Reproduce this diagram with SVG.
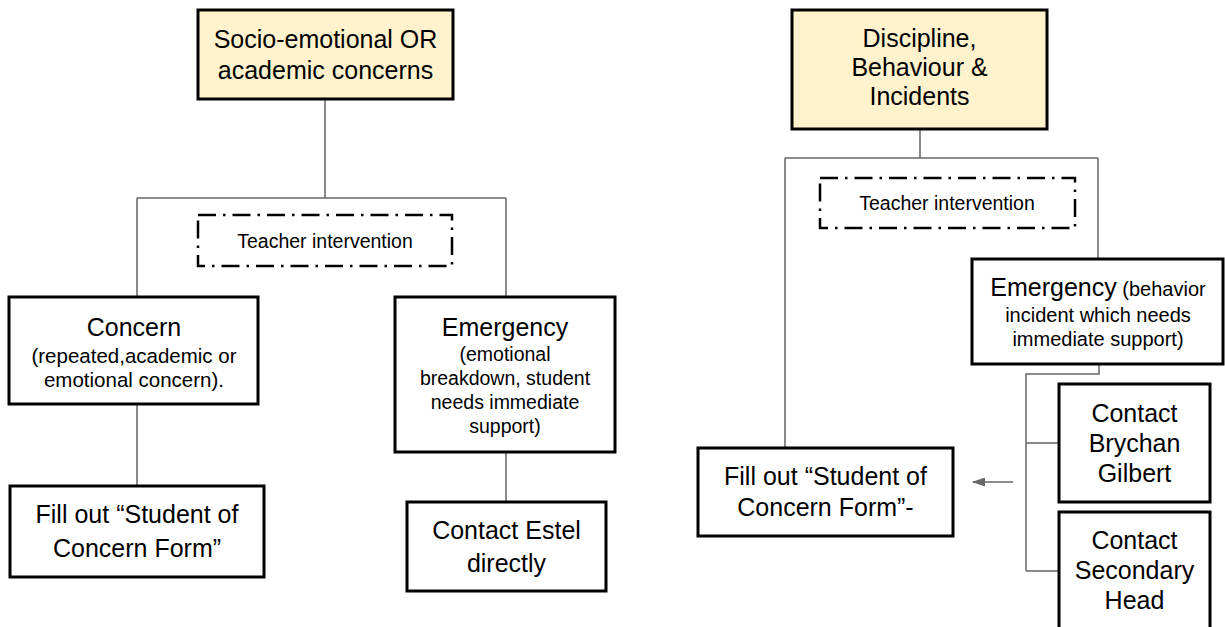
<svg xmlns="http://www.w3.org/2000/svg" width="1225" height="627" viewBox="0 0 1225 627">
<style>
.box{fill:#ffffff;stroke:#000000;stroke-width:3}
.head{fill:#fff2cc;stroke:#000000;stroke-width:3}
.dash{fill:none;stroke:#000000;stroke-width:2.5;stroke-dasharray:18 7 2.5 7}
.t{font-family:"Liberation Sans",Arial,sans-serif;font-size:25px;fill:#000000;text-anchor:middle}
.s{font-family:"Liberation Sans",Arial,sans-serif;font-size:19.5px;fill:#000000;text-anchor:middle}
.c{fill:none;stroke:#666666;stroke-width:1.5}
</style>
<defs>
<marker id="ah" markerWidth="13" markerHeight="9" refX="12" refY="4.5" orient="auto" markerUnits="userSpaceOnUse">
<path d="M0,0 L13,4.5 L0,9 Z" fill="#666666"/>
</marker>
</defs>
<rect width="1225" height="627" fill="#ffffff"/>
<g id="connectors">
<path class="c" d="M325,99 V198 M137,198 H506 M137,198 V297 M506,198 V297 M137,404 V486 M506,452 V502"/>
<path class="c" d="M920,129 V158 M785,158 H1098 M785,158 V448 M1098,158 V259"/>
<path class="c" d="M1099,364 V374 H1026 V571 M1026,443 H1059 M1026,571 H1059"/>
<line class="c" x1="1013" y1="482" x2="973" y2="482" marker-end="url(#ah)"/>
</g>
<g id="n-socio">
<rect class="head" x="198" y="10" width="255" height="89"/>
<text class="t" x="325.5" y="48" font-size="25.5px">Socio-emotional OR</text>
<text class="t" x="325.5" y="79" font-size="25.5px">academic concerns</text>
</g>
<g id="n-teacher-left">
<rect class="dash" x="198" y="215" width="254" height="51"/>
<text class="s" x="325" y="248">Teacher intervention</text>
</g>
<g id="n-concern">
<rect class="box" x="9" y="297" width="249" height="107"/>
<text class="t" x="134" y="336">Concern</text>
<text class="s" x="134" y="363" style="font-size:20.5px">(repeated,academic or</text>
<text class="s" x="134" y="387" style="font-size:20.5px">emotional concern).</text>
</g>
<g id="n-emergency-left">
<rect class="box" x="395" y="297" width="220" height="155"/>
<text class="t" x="505" y="336">Emergency</text>
<text class="s" x="505" y="361">(emotional</text>
<text class="s" x="505" y="385">breakdown, student</text>
<text class="s" x="505" y="409">needs immediate</text>
<text class="s" x="505" y="433">support)</text>
</g>
<g id="n-fillout-left">
<rect class="box" x="10" y="486" width="254" height="91"/>
<text class="t" x="137" y="523">Fill out “Student of</text>
<text class="t" x="137" y="557">Concern Form”</text>
</g>
<g id="n-estel">
<rect class="box" x="407" y="502" width="199" height="89"/>
<text class="t" x="506.5" y="539">Contact Estel</text>
<text class="t" x="506.5" y="572">directly</text>
</g>
<g id="n-discipline">
<rect class="head" x="792" y="10" width="255" height="119"/>
<text class="t" x="919.5" y="47">Discipline,</text>
<text class="t" x="919.5" y="76">Behaviour &amp;</text>
<text class="t" x="919.5" y="105">Incidents</text>
</g>
<g id="n-teacher-right">
<rect class="dash" x="820" y="178" width="255" height="50"/>
<text class="s" x="947" y="210">Teacher intervention</text>
</g>
<g id="n-emergency-right">
<rect class="box" x="972" y="259" width="251" height="105"/>
<text x="1098" y="296" style="font-family:'Liberation Sans',Arial,sans-serif;text-anchor:middle"><tspan font-size="25px">Emergency</tspan><tspan font-size="20px"> (behavior</tspan></text>
<text class="s" x="1098" y="322" style="font-size:20px">incident which needs</text>
<text class="s" x="1098" y="346" style="font-size:20px">immediate support)</text>
</g>
<g id="n-fillout-right">
<rect class="box" x="698" y="448" width="255" height="88"/>
<text class="t" x="825.5" y="485">Fill out “Student of</text>
<text class="t" x="825.5" y="516">Concern Form”-</text>
</g>
<g id="n-brychan">
<rect class="box" x="1059" y="384" width="151" height="118"/>
<text class="t" x="1134.5" y="422">Contact</text>
<text class="t" x="1134.5" y="452">Brychan</text>
<text class="t" x="1134.5" y="482">Gilbert</text>
</g>
<g id="n-secondary">
<rect class="box" x="1059" y="512" width="151" height="130"/>
<text class="t" x="1134.5" y="549">Contact</text>
<text class="t" x="1134.5" y="579">Secondary</text>
<text class="t" x="1134.5" y="609">Head</text>
</g>
</svg>
